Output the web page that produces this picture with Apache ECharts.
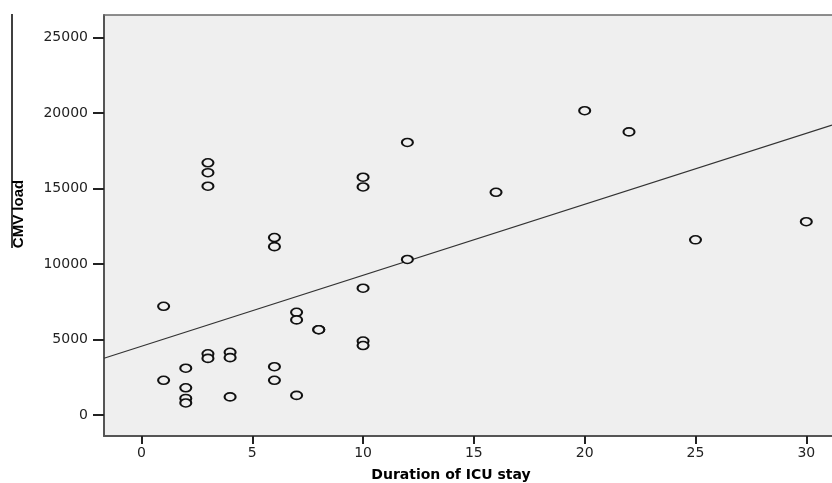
<!DOCTYPE html>
<html>
<head>
<meta charset="utf-8">
<script src="https://cdn.jsdelivr.net/npm/echarts@6/dist/echarts.min.js"></script>
<style>
  html, body { margin: 0; padding: 0; background: #fff; }
  #main { width: 832px; height: 483px; }
</style>
</head>
<body>
<div id="main"></div>
<script>
// days in ICU (x) and CMV load (y)
var stayDays = [1, 1, 2, 2, 2, 2, 3, 3, 3, 3, 3, 4, 4, 4, 6, 6, 6, 6, 7, 7, 7, 8, 8,
                10, 10, 10, 10, 10, 12, 12, 16, 20, 22, 25, 30];
var cmvLoad = [7200, 2300, 3100, 1800, 1100, 800, 16700, 16050, 15150, 4050, 3750,
               4150, 3800, 1200, 11750, 11150, 3200, 2300, 6800, 6300, 1300, 5650, 5650,
               15750, 15100, 8400, 4900, 4600, 18050, 10300, 14750, 20150, 18750, 11600, 12800];

var xTicks = [0, 5, 10, 15, 20, 25, 30];
var yTicks = [0, 5000, 10000, 15000, 20000, 25000];

// fit line as drawn in the picture
var fitIntercept = 4550;
var fitSlope = 470;
var fitX = [-1.69, 31.16];

var points = stayDays.map(function (d, i) { return [d, cmvLoad[i]]; });
var fitLine = fitX.map(function (x) { return [x, fitIntercept + fitSlope * x]; });

var myChart = echarts.init(document.getElementById('main'));
var option = {
    backgroundColor: '#ffffff',
    animation: false,
    grid: {
        left: 104, top: 15, right: 0, bottom: 47,
        show: true,
        backgroundColor: '#efefef',
        borderWidth: 0
    },
    xAxis: [{
        type: 'value',
        min: -1.69,
        max: 31.16,
        splitLine: { show: false },
        axisLine: { show: true, onZero: false, lineStyle: { color: '#555', width: 2 } },
        axisTick: { show: true, length: 8, customValues: xTicks, lineStyle: { color: '#222', width: 2 } },
        axisLabel: {
            customValues: xTicks, margin: 10,
            color: '#222', fontSize: 14, fontFamily: 'DejaVu Sans'
        }
    }, {
        // top frame line of the plot box
        type: 'value',
        position: 'top',
        min: -1.69,
        max: 31.16,
        splitLine: { show: false },
        axisLine: { show: true, onZero: false, lineStyle: { color: '#6a6a6a', width: 1.5 } },
        axisTick: { show: false },
        axisLabel: { show: false }
    }],
    yAxis: {
        type: 'value',
        min: -1390,
        max: 26490,
        splitLine: { show: false },
        axisLine: { show: true, onZero: false, lineStyle: { color: '#555', width: 2 } },
        axisTick: { show: true, length: 11, customValues: yTicks, lineStyle: { color: '#222', width: 2 } },
        axisLabel: {
            customValues: yTicks, margin: 16,
            color: '#222', fontSize: 14, fontFamily: 'DejaVu Sans',
            formatter: function (v) { return String(v); }
        }
    },
    graphic: [
        {
            type: 'line',
            shape: { x1: 12, y1: 14, x2: 12, y2: 248 },
            style: { stroke: '#000', lineWidth: 1.5 }
        },
        {
            type: 'text',
            x: 19, y: 214,
            rotation: Math.PI / 2,
            style: {
                text: 'CMV load',
                fontFamily: 'Liberation Sans', fontWeight: 'bold', fontSize: 15,
                fill: '#000', align: 'center', verticalAlign: 'middle'
            }
        },
        {
            type: 'text',
            x: 451, y: 475,
            style: {
                text: 'Duration of ICU stay',
                fontFamily: 'DejaVu Sans', fontWeight: 'bold', fontSize: 14,
                fill: '#000', align: 'center', verticalAlign: 'middle'
            }
        }
    ],
    series: [
        {
            type: 'line',
            data: fitLine,
            symbol: 'none',
            silent: true,
            lineStyle: { color: '#333', width: 1.2 },
            z: 2
        },
        {
            type: 'scatter',
            data: points,
            symbol: 'circle',
            symbolSize: [11, 8],
            itemStyle: { color: '#efefef', borderColor: '#111', borderWidth: 1.8, opacity: 1 },
            z: 3
        }
    ]
};

option && myChart.setOption(option);
</script>
</body>
</html>
